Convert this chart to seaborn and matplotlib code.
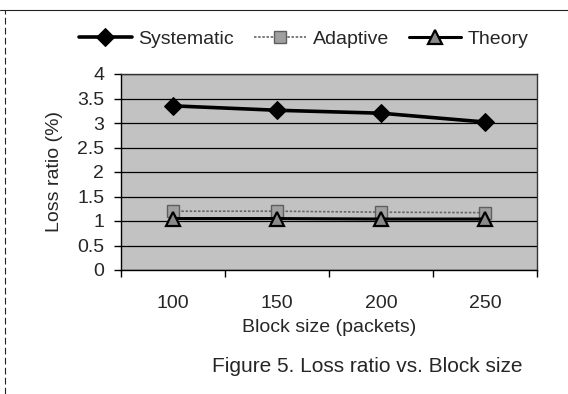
import matplotlib
matplotlib.use("Agg")
import matplotlib.pyplot as plt
from matplotlib.lines import Line2D
import seaborn as sns
import pandas as pd

block_sizes = ["100", "150", "200", "250"]
systematic = [3.35, 3.26, 3.20, 3.02]
adaptive = [1.20, 1.20, 1.18, 1.17]
theory = [1.05, 1.05, 1.04, 1.04]
y_ticks = [0, 0.5, 1, 1.5, 2, 2.5, 3, 3.5, 4]
y_tick_labels = ["0", "0.5", "1", "1.5", "2", "2.5", "3", "3.5", "4"]

sns.set_theme(style="white")
plt.rcParams["font.family"] = ["Liberation Sans", "DejaVu Sans"]

W, H = 568, 394
fig = plt.figure(figsize=(W / 100, H / 100), dpi=100)
ax = fig.add_axes([121 / W, 1 - 270 / H, 416 / W, 196 / H])
ax.set_facecolor("#c2c2c2")

df_s = pd.DataFrame({"x": block_sizes, "y": systematic})
df_a = pd.DataFrame({"x": block_sizes, "y": adaptive})
df_t = pd.DataFrame({"x": block_sizes, "y": theory})

sns.lineplot(data=df_a, x="x", y="y", ax=ax, color="#666666", lw=1.2,
             linestyle=(0, (1.5, 1)), marker="s", markersize=8,
             markerfacecolor="#a0a0a0", markeredgecolor="#5e5e5e",
             markeredgewidth=1, label="Adaptive", zorder=3)
sns.lineplot(data=df_t, x="x", y="y", ax=ax, color="black", lw=2.2,
             marker="^", markersize=10, markerfacecolor="#8a8a8a",
             markeredgecolor="black", markeredgewidth=1.6,
             label="Theory", zorder=4)
sns.lineplot(data=df_s, x="x", y="y", ax=ax, color="black", lw=2.6,
             marker="D", markersize=9, markerfacecolor="black",
             markeredgecolor="black", label="Systematic", zorder=5)

ax.set_xlim(-0.5, 3.5)
ax.set_ylim(0, 4)
ax.set_yticks(y_ticks)
ax.set_yticklabels(y_tick_labels, fontsize=14)
ax.yaxis.grid(True, color="black", lw=0.9)
ax.xaxis.grid(False)
ax.set_axisbelow(True)

ax.set_xticks([-0.5, 0.5, 1.5, 2.5, 3.5])
ax.set_xticklabels([])
ax.set_xticks(range(len(block_sizes)), minor=True)
ax.set_xticklabels(block_sizes, minor=True, fontsize=14)
ax.tick_params(axis="x", which="major", direction="out", length=5,
               width=1, color="black", bottom=True)
ax.tick_params(axis="x", which="minor", length=0, pad=18, bottom=True)
ax.tick_params(axis="y", direction="out", length=5, width=1,
               color="black", left=True, pad=7)

for s in ax.spines.values():
    s.set_color("#333333")
    s.set_linewidth(1)
ax.spines["left"].set_color("black")
ax.spines["bottom"].set_color("black")

ax.set_xlabel("Block size (packets)", fontsize=14, labelpad=5)
ax.set_ylabel("Loss ratio (%)", fontsize=14, labelpad=10)

ax.get_legend().remove()
handles, labels = ax.get_legend_handles_labels()
order = [labels.index("Systematic"), labels.index("Adaptive"), labels.index("Theory")]
fig.legend([handles[i] for i in order], [labels[i] for i in order],
           loc="center", bbox_to_anchor=(304 / W, 1 - 39 / H), ncol=3,
           frameon=False, fontsize=14, handlelength=2.7, handletextpad=0.35,
           columnspacing=1.0)

fig.text(367 / W, 1 - 366 / H, "Figure 5. Loss ratio vs. Block size",
         ha="center", va="center", fontsize=15)

fig.add_artist(Line2D([0, 1], [1 - 10 / H, 1 - 10 / H], color="#222222",
                      lw=0.8, transform=fig.transFigure))
fig.add_artist(Line2D([5 / W, 5 / W], [0, 1 - 10 / H], color="#222222",
                      lw=0.8, linestyle=(0, (6, 3)), transform=fig.transFigure))

fig.savefig("out.png", dpi=100)
